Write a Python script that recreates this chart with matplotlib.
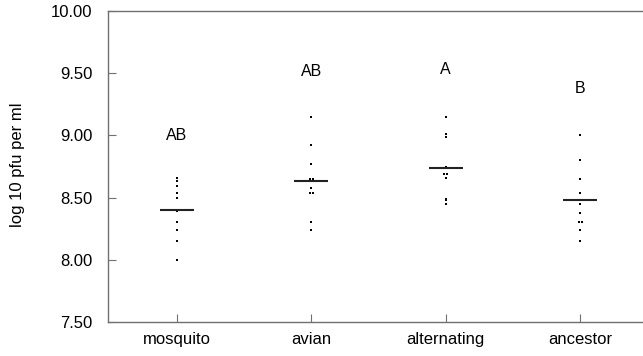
import matplotlib.pyplot as plt
import numpy as np

plt.rcParams['font.family'] = ['Liberation Sans', 'DejaVu Sans']

# data
groups = ["mosquito", "avian", "alternating", "ancestor"]
mosquito = [8.66, 8.63, 8.59, 8.54, 8.50, 8.39, 8.30, 8.24, 8.15, 8.00]
avian = [9.15, 8.92, 8.77, 8.65, 8.65, 8.58, 8.54, 8.54, 8.30, 8.24]
alternating = [9.15, 9.01, 8.99, 8.75, 8.69, 8.69, 8.66, 8.49, 8.48, 8.45]
ancestor = [9.00, 8.80, 8.65, 8.54, 8.45, 8.38, 8.30, 8.30, 8.24, 8.15]
letters = ["AB", "AB", "A", "B"]
letter_y = [9.00, 9.51, 9.53, 9.38]
yticks = [7.5, 8.0, 8.5, 9.0, 9.5, 10.0]

series = [mosquito, avian, alternating, ancestor]
spine_col = "#707070"
fs = 12

fig = plt.figure(figsize=(6.43, 3.56), dpi=100)
ax = fig.add_axes([0.1675, 0.0955, 0.8325, 0.8735])

for i, vals in enumerate(series):
    vals = np.array(vals)
    # spread identical values side by side
    xs = np.full(len(vals), float(i))
    for v in np.unique(vals):
        idx = np.where(vals == v)[0]
        if len(idx) > 1:
            xs[idx] = i + (np.arange(len(idx)) - (len(idx) - 1) / 2) * 0.022
    ax.plot(xs, vals, linestyle="none", marker="s", markersize=1.6,
            color="black", markeredgewidth=0)
    m = np.mean(vals)
    ax.plot([i - 0.126, i + 0.126], [m, m], color="#222222", lw=1.5,
            solid_capstyle="butt")
    ax.text(i, letter_y[i], letters[i], ha="center", va="center", fontsize=11.5)

ax.set_xlim(-0.513, 3.467)
ax.set_ylim(7.5, 10.0)
ax.set_xticks(range(len(groups)))
ax.set_xticklabels(groups, fontsize=fs)
ax.set_yticks(yticks)
ax.set_yticklabels(["%.2f" % t for t in yticks], fontsize=fs)
ax.tick_params(axis="both", direction="in", length=5.5, width=0.8,
               color=spine_col)
ax.tick_params(axis="y", pad=11)
ax.tick_params(axis="x", pad=7)
ax.set_ylabel("log 10 pfu per ml", fontsize=fs)
ax.yaxis.set_label_coords(-0.155, 0.505)

ax.spines["right"].set_visible(False)
for s in ["left", "top", "bottom"]:
    ax.spines[s].set_color(spine_col)
    ax.spines[s].set_linewidth(1.0)

fig.savefig("out.png", dpi=100)
